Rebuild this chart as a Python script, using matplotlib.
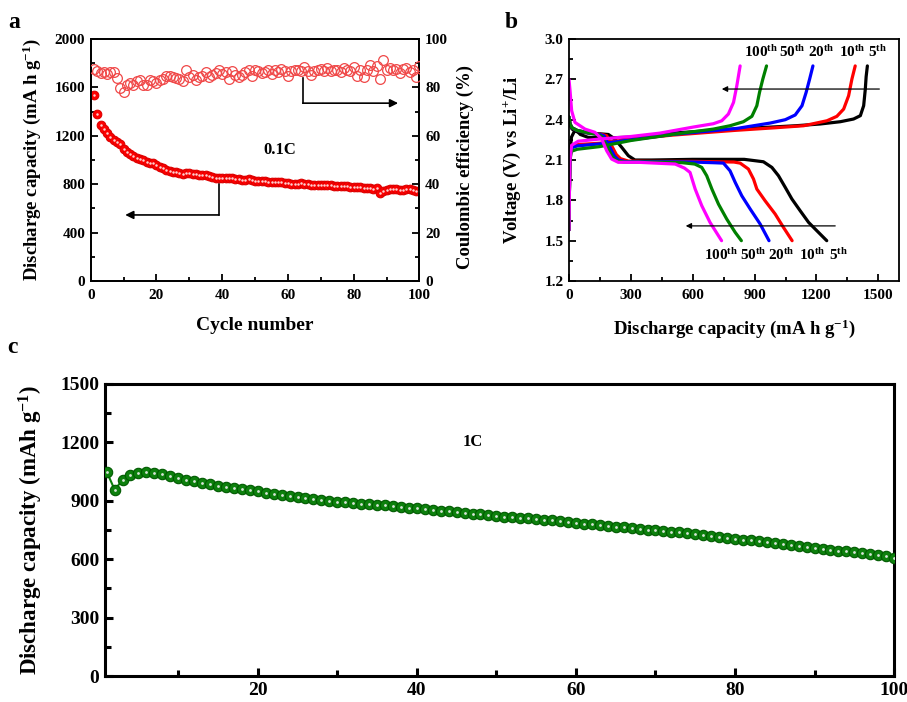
import matplotlib
matplotlib.use("Agg")
import matplotlib.pyplot as plt
from matplotlib.ticker import MultipleLocator, FixedLocator

plt.rcParams['font.family'] = ['Liberation Serif', 'DejaVu Serif']
plt.rcParams['font.weight'] = 'bold'
plt.rcParams['axes.labelweight'] = 'bold'
plt.rcParams['mathtext.fontset'] = 'custom'
plt.rcParams['mathtext.rm'] = 'Liberation Serif:bold'
plt.rcParams['mathtext.bf'] = 'Liberation Serif:bold'
plt.rcParams['mathtext.it'] = 'Liberation Serif:bold:italic'
plt.rcParams['mathtext.default'] = 'rm'

# ---------------- (a) cycling at 0.1C ----------------
cycles_a = list(range(1, 101))
capacity_a = [1540, 1380, 1290, 1255, 1225, 1190, 1165, 1150, 1135, 1090,
              1065, 1050, 1035, 1015, 1010, 1000, 985, 975, 975, 960,
              945, 930, 920, 912, 905, 900, 893, 885, 895, 890,
              885, 882, 878, 875, 875, 870, 862, 855, 852, 855,
              850, 852, 848, 845, 840, 838, 835, 840, 832, 830,
              828, 830, 825, 820, 818, 815, 818, 815, 812, 808,
              805, 803, 805, 806, 804, 800, 795, 792, 795, 793,
              790, 792, 790, 787, 785, 783, 785, 782, 780, 778,
              776, 773, 770, 768, 766, 762, 770, 725, 745, 755,
              760, 758, 760, 755, 752, 760, 762, 755, 745, 748]
efficiency_a = [87.6, 86.6, 85.9, 86.2, 85.7, 86.2, 86.2, 83.9, 79.7, 78.3,
                81.1, 81.8, 81.1, 82.5, 83.2, 81.1, 81.1, 83.2, 82.5, 81.8,
                82.9, 83.4, 84.6, 84.8, 84.3, 83.9, 83.4, 82.5, 87.0, 84.3,
                85.2, 83.2, 84.3, 84.8, 86.2, 84.3, 85.2, 85.9, 87.3, 85.7,
                86.2, 83.4, 86.6, 85.2, 84.3, 85.2, 86.2, 87.3, 84.6, 87.0,
                86.6, 85.9, 86.2, 87.3, 85.7, 87.0, 86.2, 87.6, 86.6, 84.6,
                86.6, 87.0, 87.3, 86.6, 88.4, 86.6, 85.2, 86.6, 87.3, 87.6,
                86.6, 88.0, 86.6, 87.0, 87.3, 86.2, 88.0, 87.0, 86.6, 88.4,
                84.6, 87.3, 84.3, 87.3, 89.4, 86.6, 88.7, 83.4, 91.4, 87.0,
                88.0, 87.3, 87.6, 85.9, 87.6, 88.0, 86.2, 87.3, 84.3, 88.7]

# ---------------- (b) voltage profiles ----------------
cycle_names = ['5th', '10th', '20th', '50th', '100th']
curve_colors = ['#000000', '#ff0000', '#0000ff', '#008000', '#ff00ff']

dis_cap = {
    '5th':   [0, 5, 15, 40, 100, 150, 191, 223, 256, 288, 320, 400, 600, 850,
              943, 984, 1016, 1049, 1081, 1121, 1162, 1202, 1250],
    '10th':  [0, 5, 15, 40, 100, 160, 183, 207, 230, 250, 288, 400, 600, 800,
              830, 870, 895, 911, 951, 1000, 1040, 1082],
    '20th':  [0, 5, 15, 40, 100, 150, 170, 195, 220, 240, 275, 400, 600, 700,
              749, 781, 806, 838, 879, 927, 970],
    '50th':  [0, 5, 15, 40, 100, 140, 160, 185, 210, 230, 265, 400, 550, 610,
              644, 668, 693, 725, 765, 806, 836],
    '100th': [0, 5, 13, 29, 78, 126, 159, 183, 207, 239, 337, 515, 560, 587,
              612, 644, 684, 740],
}
dis_volt = {
    '5th':   [2.42, 2.36, 2.33, 2.31, 2.30, 2.295, 2.29, 2.256, 2.194, 2.132, 2.10, 2.10, 2.105, 2.105,
              2.087, 2.045, 1.983, 1.896, 1.81, 1.723, 1.636, 1.574, 1.50],
    '10th':  [2.42, 2.37, 2.34, 2.32, 2.30, 2.29, 2.281, 2.206, 2.14, 2.11, 2.092, 2.09, 2.09, 2.085,
              2.077, 2.033, 1.958, 1.884, 1.797, 1.698, 1.599, 1.50],
    '20th':  [2.42, 2.37, 2.34, 2.32, 2.30, 2.29, 2.28, 2.205, 2.13, 2.10, 2.088, 2.088, 2.085, 2.08,
              2.077, 2.02, 1.934, 1.834, 1.735, 1.624, 1.50],
    '50th':  [2.42, 2.37, 2.34, 2.32, 2.30, 2.29, 2.275, 2.20, 2.125, 2.095, 2.085, 2.085, 2.08, 2.07,
              2.045, 1.983, 1.884, 1.772, 1.661, 1.562, 1.50],
    '100th': [2.70, 2.62, 2.467, 2.38, 2.33, 2.306, 2.256, 2.169, 2.107, 2.083, 2.083, 2.07, 2.04, 2.008,
              1.884, 1.76, 1.636, 1.50],
}
chg_cap = {
    '5th':   [0, 2, 5, 12, 25, 37, 55, 92, 189, 300, 500, 800, 1100, 1218, 1316, 1380,
              1413, 1429, 1437, 1441, 1447],
    '10th':  [0, 2, 5, 12, 40, 150, 300, 500, 800, 1000, 1138, 1251, 1299, 1332, 1356,
              1372, 1388],
    '20th':  [0, 2, 5, 12, 40, 150, 300, 500, 814, 976, 1049, 1097, 1130, 1150, 1167, 1183],
    '50th':  [0, 2, 5, 12, 40, 150, 300, 500, 700, 781, 846, 887, 911, 924, 940, 958],
    '100th': [0, 2, 5, 13, 45, 142, 300, 440, 602, 700, 741, 773, 798, 814, 830],
}
chg_volt = {
    '5th':   [1.58, 1.85, 2.15, 2.27, 2.31, 2.318, 2.29, 2.269, 2.265, 2.27, 2.30, 2.33, 2.355,
              2.368, 2.385, 2.405, 2.43, 2.504, 2.628, 2.72, 2.80],
    '10th':  [1.58, 1.85, 2.12, 2.20, 2.215, 2.225, 2.255, 2.285, 2.32, 2.34, 2.355, 2.392,
              2.425, 2.479, 2.578, 2.702, 2.80],
    '20th':  [1.58, 1.85, 2.12, 2.19, 2.205, 2.22, 2.25, 2.29, 2.335, 2.375, 2.40, 2.435,
              2.504, 2.603, 2.702, 2.80],
    '50th':  [1.58, 1.85, 2.10, 2.165, 2.18, 2.20, 2.245, 2.29, 2.33, 2.355, 2.385, 2.425,
              2.504, 2.603, 2.702, 2.80],
    '100th': [1.58, 1.85, 2.10, 2.21, 2.24, 2.255, 2.275, 2.30, 2.345, 2.37, 2.392, 2.442,
              2.529, 2.653, 2.80],
}
top_label_x = [1497, 1376, 1223, 1083, 932]
bottom_label_x = [1308, 1182, 1031, 895, 740]

# ---------------- (c) cycling at 1C ----------------
cycles_c = list(range(1, 101))
capacity_c = [1050, 958, 1005, 1032, 1045, 1048, 1043, 1037, 1028, 1018,
              1008, 1000, 992, 985, 978, 972, 965, 960, 955, 948,
              942, 936, 930, 925, 920, 915, 910, 905, 900, 896,
              892, 889, 886, 884, 880, 876, 872, 868, 865, 861,
              857, 853, 849, 846, 842, 838, 834, 830, 826, 823,
              819, 816, 813, 810, 807, 803, 799, 795, 791, 787,
              783, 780, 776, 772, 768, 764, 760, 756, 752, 748,
              745, 742, 739, 734, 729, 725, 721, 716, 711, 706,
              701, 697, 692, 687, 682, 678, 674, 670, 665, 658,
              652, 648, 644, 640, 635, 630, 625, 620, 614, 606]

fig = plt.figure(figsize=(9.07, 7.02), dpi=100)


def style_axis(ax, size, width=1.3):
    for s in ax.spines.values():
        s.set_linewidth(width)
    ax.tick_params(which='both', direction='in', width=width, labelsize=size, pad=4)
    ax.tick_params(which='major', length=5)
    ax.tick_params(which='minor', length=3)


# ---- panel a ----
axa = fig.add_axes([0.100, 0.5997, 0.3625, 0.3447])
axa.plot(cycles_a, capacity_a, 'o', color='#ff0000', markeredgecolor='#dd0000',
         markersize=6.2, markeredgewidth=0.8, zorder=3)
axa.plot(cycles_a, capacity_a, 'o', color='#ffd0d0', markersize=1.8,
         markeredgewidth=0, zorder=4)
axa.set_xlim(0, 100)
axa.set_ylim(0, 2000)
axa.xaxis.set_major_locator(MultipleLocator(20))
axa.xaxis.set_minor_locator(MultipleLocator(10))
axa.yaxis.set_major_locator(MultipleLocator(400))
axa.yaxis.set_minor_locator(MultipleLocator(200))
style_axis(axa, 11)
axa.tick_params(axis='x', pad=6)
axa.tick_params(axis='y', right=False)
axa.set_xlabel('Cycle number', fontsize=14)
axa.set_ylabel('Discharge capacity (mA h g$^{-1}$)', fontsize=13.5)
axa.xaxis.set_label_coords(0.5, -0.15)
axa.yaxis.set_label_coords(-0.145, 0.5)
axa.text(57.6, 1084, '0.1C', fontsize=12, ha='center', va='center')
axa.plot([39, 39], [800, 546], color='k', lw=1.2)
axa.annotate('', xy=(10.5, 546), xytext=(39, 546),
             arrowprops=dict(arrowstyle='-|>', color='k', lw=1.2,
                             mutation_scale=12, shrinkA=0, shrinkB=0))

axa2 = axa.twinx()
axa2.plot(cycles_a, efficiency_a, 'o', markerfacecolor='none',
          markeredgecolor='#f04848', markersize=7, markeredgewidth=0.9, zorder=3)
axa2.set_ylim(0, 100)
axa2.yaxis.set_major_locator(MultipleLocator(20))
axa2.yaxis.set_minor_locator(MultipleLocator(10))
style_axis(axa2, 11)
axa2.set_ylabel('Coulombic efficiency (%)', fontsize=13.5)
axa2.yaxis.set_label_coords(1.112, 0.47)
axa2.plot([64.5, 64.5], [84, 73.5], color='k', lw=1.2)
axa2.annotate('', xy=(93.5, 73.5), xytext=(64.5, 73.5),
              arrowprops=dict(arrowstyle='-|>', color='k', lw=1.2,
                              mutation_scale=12, shrinkA=0, shrinkB=0))
fig.text(0.009, 0.968, 'a', fontsize=17, ha='left', va='center')

# ---- panel b ----
axb = fig.add_axes([0.6273, 0.5997, 0.3638, 0.3447])
for name, col in zip(cycle_names, curve_colors):
    axb.plot(dis_cap[name], dis_volt[name], color=col, lw=2.3,
             solid_joinstyle='round', solid_capstyle='round')
    axb.plot(chg_cap[name], chg_volt[name], color=col, lw=2.3,
             solid_joinstyle='round', solid_capstyle='round')
axb.set_xlim(0, 1600)
axb.set_ylim(1.2, 3.0)
axb.xaxis.set_major_locator(FixedLocator([0, 300, 600, 900, 1200, 1500]))
axb.xaxis.set_minor_locator(FixedLocator([150, 450, 750, 1050, 1350]))
axb.yaxis.set_major_locator(MultipleLocator(0.3))
axb.yaxis.set_minor_locator(MultipleLocator(0.15))
axb.yaxis.set_major_formatter(plt.FuncFormatter(lambda v, p: f'{v:.1f}'))
style_axis(axb, 11)
axb.tick_params(axis='x', pad=6)
axb.set_xlabel('Discharge capacity (mA h g$^{-1}$)', fontsize=13.5)
axb.set_ylabel('Voltage (V) vs Li$^{+}$/Li', fontsize=13.5)
axb.xaxis.set_label_coords(0.5, -0.15)
axb.yaxis.set_label_coords(-0.14, 0.5)
axb.annotate('', xy=(741, 2.628), xytext=(1505, 2.628),
             arrowprops=dict(arrowstyle='-|>', color='k', lw=0.9,
                             mutation_scale=8, shrinkA=0, shrinkB=0))
axb.annotate('', xy=(566, 1.61), xytext=(1291, 1.61),
             arrowprops=dict(arrowstyle='-|>', color='k', lw=0.9,
                             mutation_scale=8, shrinkA=0, shrinkB=0))
for name, tx, bx in zip(cycle_names, top_label_x, bottom_label_x):
    num = name[:-2]
    lbl = num + '$^{\\mathrm{th}}$'
    axb.text(tx, 2.90, lbl, fontsize=11, ha='center', va='center')
    axb.text(bx, 1.39, lbl, fontsize=11, ha='center', va='center')
fig.text(0.556, 0.968, 'b', fontsize=17, ha='left', va='center')

# ---- panel c ----
axc = fig.add_axes([0.1158, 0.037, 0.8700, 0.416])
axc.plot(cycles_c, capacity_c, '-', color='#0a800a', lw=1.5, zorder=2)
axc.plot(cycles_c, capacity_c, 'o', color='#0d800d', markeredgecolor='#005a00',
         markersize=7.5, markeredgewidth=0.8, zorder=3)
axc.plot(cycles_c, capacity_c, 'o', color='#d8e4d8', markersize=2.0,
         markeredgewidth=0, zorder=4)
axc.set_xlim(0.8, 100)
axc.set_ylim(0, 1500)
axc.xaxis.set_major_locator(FixedLocator([20, 40, 60, 80, 100]))
axc.xaxis.set_minor_locator(FixedLocator([10, 30, 50, 70, 90]))
axc.yaxis.set_major_locator(MultipleLocator(300))
axc.yaxis.set_minor_locator(MultipleLocator(150))
style_axis(axc, 14, width=2.2)
axc.tick_params(which='major', length=6)
axc.tick_params(which='minor', length=4)
axc.set_ylabel('Discharge capacity (mAh g$^{-1}$)', fontsize=16.5)
axc.yaxis.set_label_coords(-0.076, 0.5)
axc.text(47, 1200, '1C', fontsize=12, ha='center', va='center')
fig.text(0.008, 0.505, 'c', fontsize=17, ha='left', va='center')

fig.savefig('out.png', dpi=100)
